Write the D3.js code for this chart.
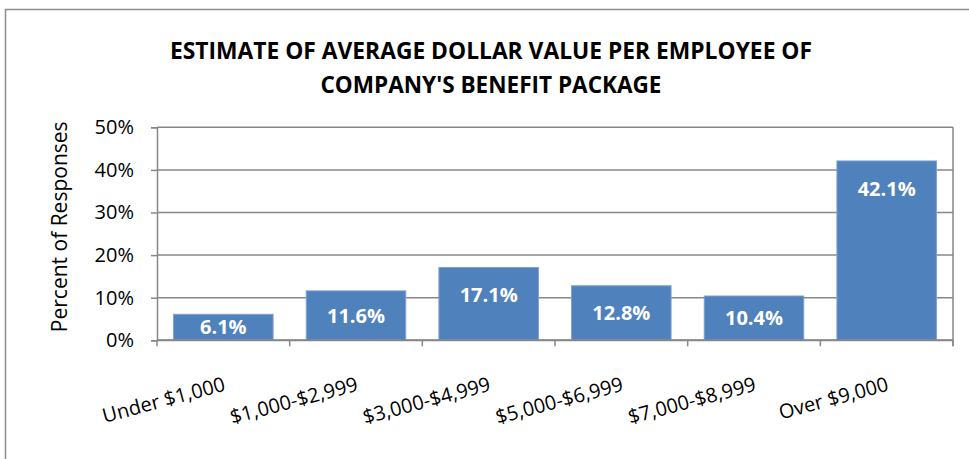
<!DOCTYPE html>
<meta charset="utf-8">
<script src="https://d3js.org/d3.v7.min.js"></script>
<style>
  body { margin: 0; background: #fff; }
  text { font-family: "Open Sans", sans-serif; }
</style>
<div id="vis"></div>
<script>

// data
var categories = ["Under $1,000", "$1,000-$2,999", "$3,000-$4,999", "$5,000-$6,999", "$7,000-$8,999", "Over $9,000"];
var values = [6.1, 11.6, 17.1, 12.8, 10.4, 42.1];
var yTicks = [0, 10, 20, 30, 40, 50];
var titleLines = ["ESTIMATE OF AVERAGE DOLLAR VALUE PER EMPLOYEE OF", "COMPANY'S BENEFIT PACKAGE"];

var W = 969, H = 459;
var margin = {top: 127.3, right: 16, bottom: 118.7, left: 157};
var width = W - margin.left - margin.right,
    height = H - margin.top - margin.bottom;

var svg = d3.select("#vis").append("svg")
    .attr("width", W)
    .attr("height", H);

// outer chart frame
svg.append("rect")
    .attr("x", 5.5).attr("y", 9.5)
    .attr("width", 1000).attr("height", 500)
    .attr("fill", "none")
    .attr("stroke", "#8c8c8c")
    .attr("stroke-width", 1.5);

// title
svg.selectAll(".title")
  .data(titleLines)
  .enter().append("text")
    .attr("x", 491)
    .attr("y", function(d, i) { return 59 + i * 34; })
    .attr("text-anchor", "middle")
    .attr("font-size", 23)
    .attr("font-weight", "bold")
    .attr("textLength", function(d, i) { return i == 0 ? 642 : 341; })
    .attr("lengthAdjust", "spacingAndGlyphs")
    .text(function(d) { return d; });

var g = svg.append("g")
    .attr("transform", "translate(" + margin.left + "," + margin.top + ")");

var x = d3.scaleBand()
    .domain(categories)
    .range([0, width])
    .paddingInner(0.25)
    .paddingOuter(0.125);

var y = d3.scaleLinear()
    .domain([0, 50])
    .range([height, 0]);

var grey = "#878787";

// gridlines
g.selectAll(".grid")
  .data(yTicks)
  .enter().append("line")
    .attr("x1", 0).attr("x2", width)
    .attr("y1", function(d) { return y(d); })
    .attr("y2", function(d) { return y(d); })
    .attr("stroke", grey)
    .attr("stroke-width", 1.5);

// right edge of plot area
g.append("line")
    .attr("x1", width).attr("x2", width)
    .attr("y1", 0).attr("y2", height + 6)
    .attr("stroke", grey).attr("stroke-width", 1.5);

// y axis
var yAxis = g.append("g")
    .call(d3.axisLeft(y).tickValues(yTicks).tickSize(6).tickPadding(17)
      .tickFormat(function(d) { return d + "%"; }));
yAxis.select(".domain").attr("stroke", grey).attr("stroke-width", 1.5);
yAxis.selectAll(".tick line").attr("stroke", grey).attr("stroke-width", 1.5);
yAxis.selectAll(".tick text")
    .attr("font-size", 20)
    .attr("font-family", "Open Sans, sans-serif")
    .attr("fill", "#000");

// y axis title
g.append("text")
    .attr("transform", "rotate(-90)")
    .attr("x", -height / 2 + 7)
    .attr("y", -90)
    .attr("text-anchor", "middle")
    .attr("font-size", 21)
    .text("Percent of Responses");

// bars
g.selectAll(".bar")
  .data(values)
  .enter().append("rect")
    .attr("x", function(d, i) { return x(categories[i]); })
    .attr("y", function(d) { return y(d); })
    .attr("width", x.bandwidth())
    .attr("height", function(d) { return height - y(d); })
    .attr("fill", "#4f81bd")
    .attr("stroke", "#7ea1cf")
    .attr("stroke-width", 1);

// x axis baseline and category boundary ticks
g.append("line")
    .attr("x1", 0).attr("x2", width)
    .attr("y1", height).attr("y2", height)
    .attr("stroke", grey).attr("stroke-width", 2);

g.selectAll(".xtick")
  .data(d3.range(categories.length + 1))
  .enter().append("line")
    .attr("x1", function(i) { return i * x.step(); })
    .attr("x2", function(i) { return i * x.step(); })
    .attr("y1", height).attr("y2", height + 6)
    .attr("stroke", grey).attr("stroke-width", 1.5);

// value labels
g.selectAll(".label")
  .data(values)
  .enter().append("text")
    .attr("x", function(d, i) { return x(categories[i]) + x.bandwidth() / 2; })
    .attr("y", function(d) {
      var top = y(d);
      return Math.min(top + 35, (top + height) / 2 + 7);
    })
    .attr("text-anchor", "middle")
    .attr("font-size", 20)
    .attr("font-weight", "bold")
    .attr("fill", "#fff")
    .text(function(d) { return d.toFixed(1) + "%"; });

// rotated category labels
g.selectAll(".xlabel")
  .data(categories)
  .enter().append("text")
    .attr("transform", function(d) {
      return "translate(" + (x(d) + x.bandwidth() / 2 + 3) + "," + (height + 50) + ") rotate(-15)";
    })
    .attr("text-anchor", "end")
    .attr("font-size", 20)
    .text(function(d) { return d; });

</script>
